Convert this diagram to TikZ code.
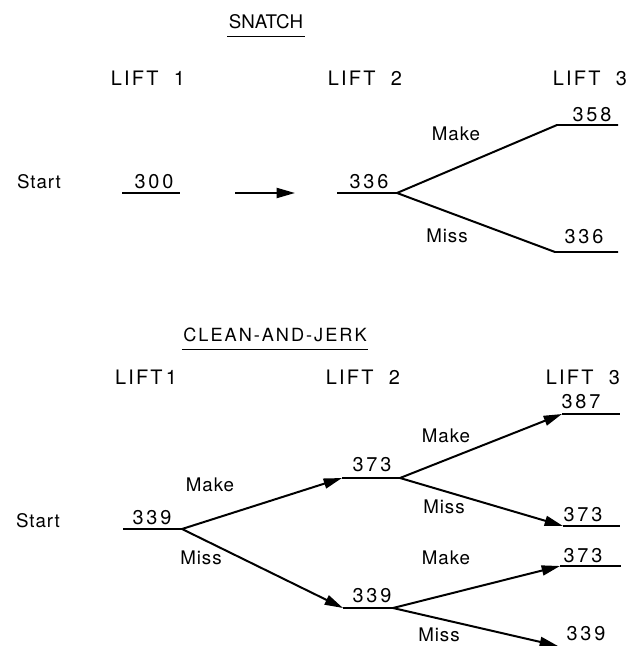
\documentclass[tikz,border=0pt]{standalone}
\usepackage{fontspec}
\setmainfont{TeX Gyre Heros}
\newfontfamily\capsfont{TeX Gyre Heros}[LetterSpace=11]
\newfontfamily\wordfont{TeX Gyre Heros}[LetterSpace=5]
\newfontfamily\digitfont{TeX Gyre Heros}[LetterSpace=14]
\usetikzlibrary{arrows.meta}

\begin{document}
\begin{tikzpicture}[x=0.03cm, y=-0.03cm, line width=1.7pt,
    every node/.style={inner sep=0.5pt},
    hdr/.style={font=\capsfont\fontsize{17}{20}\selectfont},
    lbl/.style={font=\wordfont\fontsize{16}{19}\selectfont},
    wt/.style={font=\digitfont\fontsize{17}{20}\selectfont},
    go/.style={-{Triangle[length=5.5mm,width=3mm]}}]
  \useasboundingbox (0,0) rectangle (631,646);

  % ---- snatch ----
  \node[font=\fontsize{16}{19}\selectfont] (sn) at (266,22) {SNATCH};
  \draw[line width=1pt] ([yshift=-5pt]sn.south west) -- ([yshift=-5pt]sn.south east);
  \node[hdr] (sl1) at (148,78) {LIFT~~1};
  \node[hdr] (sl2) at (365,78) {LIFT~~2};
  \node[hdr] (sl3) at (590,78) {LIFT~~3};
  \node[lbl] (sst) at (39,182) {Start};

  % weight lines
  \coordinate (s1l) at (122,193);  \coordinate (s1r) at (180,193);
  \coordinate (ar1) at (235,193);  \coordinate (ar2) at (295,193);
  \coordinate (s2l) at (337,193);  \coordinate (s2r) at (397,193);
  \coordinate (s3ul) at (557,125); \coordinate (s3ur) at (618,125);
  \coordinate (s3dl) at (555,252); \coordinate (s3dr) at (618,252);
  \draw (s1l) -- (s1r);
  \draw[go] (ar1) -- (ar2);
  \draw (s2l) -- (s2r);
  \draw (s3ur) -- (s3ul) -- (s2r) -- (s3dl) -- (s3dr);

  \node[wt] (w300) at (154,182) {300};
  \node[wt] (w336) at (369,182) {336};
  \node[wt] (w358) at (592,115) {358};
  \node[wt] (w336b) at (584,237) {336};
  \node[lbl] (smk) at (456,134) {Make};
  \node[lbl] (sms) at (447,236) {Miss};

  % ---- clean-and-jerk ----
  \node[hdr, font=\capsfont\fontsize{15.5}{18}\selectfont] (cj) at (275,335) {CLEAN-AND-JERK};
  \draw[line width=1pt] ([yshift=-5pt]cj.south west) -- ([yshift=-5pt]cj.south east);
  \node[hdr] (cl1) at (146,377) {LIFT\,1};
  \node[hdr] (cl2) at (363,377) {LIFT~~2};
  \node[hdr] (cl3) at (583,377) {LIFT~~3};
  \node[lbl] (cst) at (38,521) {Start};

  \coordinate (c1l) at (123,529);  \coordinate (c1r) at (182,529);
  \coordinate (c2ul) at (342,478); \coordinate (c2ur) at (400,478);
  \coordinate (c2dl) at (343,608); \coordinate (c2dr) at (393,608);
  \coordinate (c3al) at (562,414); \coordinate (c3ar) at (620,414);
  \coordinate (c3bl) at (563,526); \coordinate (c3br) at (620,526);
  \coordinate (c3cl) at (560,566); \coordinate (c3cr) at (621,566);
  \coordinate (c3dl) at (558,646);
  \draw (c1l) -- (c1r);
  \draw[go] (c1r) -- (c2ul);
  \draw[go] (c1r) -- (c2dl);
  \draw (c2ul) -- (c2ur);
  \draw (c2dl) -- (c2dr);
  \draw[go] (c2ur) -- (c3al);
  \draw[go] (c2ur) -- (c3bl);
  \draw[go] (c2dr) -- (c3cl);
  \draw[go] (c2dr) -- (c3dl);
  \draw (c3al) -- (c3ar);
  \draw (c3bl) -- (c3br);
  \draw (c3cl) -- (c3cr);

  \node[wt] (w339) at (152,518) {339};
  \node[wt] (w373) at (372,465) {373};
  \node[wt] (w339b) at (372,596) {339};
  \node[wt] (w387) at (581,402) {387};
  \node[wt] (w373b) at (583,515) {373};
  \node[wt] (w373c) at (583,556) {373};
  \node[wt] (w339c) at (586,634) {339};
  \node[lbl] (cmk1) at (210,485) {Make};
  \node[lbl] (cms1) at (201,558) {Miss};
  \node[lbl] (cmk2) at (446,436) {Make};
  \node[lbl] (cms2) at (444,507) {Miss};
  \node[lbl] (cmk3) at (446,558) {Make};
  \node[lbl] (cms3) at (439,635) {Miss};
\end{tikzpicture}
\end{document}
